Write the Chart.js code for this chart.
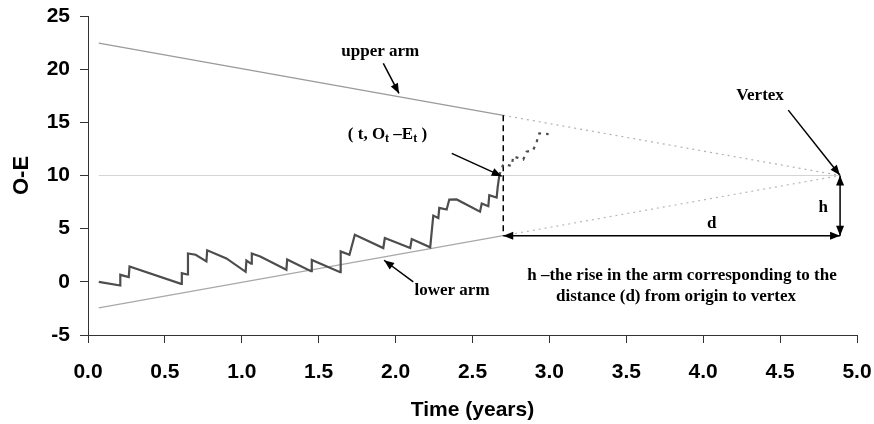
<!DOCTYPE html>
<html>
<head>
<meta charset="utf-8">
<script src="https://cdn.jsdelivr.net/npm/chart.js@4.4.1/dist/chart.umd.min.js"></script>
<style>
  body { margin: 0; background: #fff; }
  #wrap { width: 874px; height: 424px; position: relative; }
</style>
</head>
<body>
<div id="wrap"><canvas id="cusum"></canvas></div>
<script>
// observed cumulative O-E up to the time of analysis
const sawT  = [0.07, 0.21, 0.21, 0.265, 0.27, 0.605, 0.61, 0.645, 0.65, 0.70, 0.77, 0.775, 0.90, 1.025, 1.03, 1.06, 1.065, 1.12, 1.29, 1.295, 1.45, 1.455, 1.64, 1.643, 1.70, 1.735, 1.92, 1.93, 2.095, 2.105, 2.225, 2.245, 2.278, 2.284, 2.332, 2.349, 2.397, 2.549, 2.56, 2.603, 2.609, 2.657, 2.664, 2.675];
const sawOE = [0.0, -0.35, 0.66, 0.44, 1.45, -0.19, 0.82, 0.69, 2.67, 2.55, 1.92, 2.96, 2.2, 0.94, 2.0, 1.7, 2.67, 2.39, 1.13, 2.1, 1.0, 2.05, 0.91, 2.86, 2.55, 4.43, 3.18, 4.12, 3.18, 4.03, 3.25, 6.23, 6.0, 6.95, 6.8, 7.74, 7.75, 6.6, 7.37, 7.11, 8.15, 7.93, 8.94, 10.05];

// continuation after the analysis time (dotted)
const nextT  = [2.675, 2.70, 2.755, 2.765, 2.83, 2.852, 2.895, 2.917, 2.934, 2.995];
const nextOE = [10.05, 11.05, 10.9, 11.8, 11.5, 12.23, 12.39, 13.17, 13.96, 13.9];

// V-mask arms
const upperT = [0.07, 2.7],  upperOE = [22.45, 15.66];
const upperProjT = [2.7, 4.89], upperProjOE = [15.66, 10];
const lowerT = [0.07, 2.7],  lowerOE = [-2.45, 4.34];
const lowerProjT = [2.7, 4.89], lowerProjOE = [4.34, 10];
const axisT = [0.07, 4.89], axisOE = [10, 10];

// construction lines
const nowT = [2.7, 2.7],  nowOE = [15.66, 4.34];
const dT = [2.7, 4.89],   dOE = [4.34, 4.34];
const hT = [4.89, 4.89],  hOE = [10, 4.34];

const xTickLabels = ['0.0', '0.5', '1.0', '1.5', '2.0', '2.5', '3.0', '3.5', '4.0', '4.5', '5.0'];

const pts = (xs, ys) => xs.map((x, i) => ({ x: x, y: ys[i] }));

// text notes, in data units
const notes = [
    { text: 'upper arm', t: 1.90, v: 21.64 },
    { text: 'lower arm', t: 2.367, v: -0.79 },
    { text: 'Vertex', t: 4.37, v: 17.56 },
    { text: 'd', t: 4.055, v: 5.49 },
    { text: 'h', t: 4.78, v: 7.02 },
    { text: 'h \u2013the rise in the arm corresponding to the', t: 3.862, v: 0.56 },
    { text: 'distance (d) from origin to vertex', t: 3.823, v: -1.42 }
];
const pointers = [
    { from: [1.92, 20.55], to: [2.022, 17.72] },
    { from: [2.115, -0.01], to: [1.925, 2.03] },
    { from: [2.365, 12.08], to: [2.69, 9.94] },
    { from: [4.553, 16.15], to: [4.889, 10.03] }
];

function arrowHead(ctx, x1, y1, x2, y2) {
    const a = Math.atan2(y2 - y1, x2 - x1);
    const len = 10, w = 4;
    ctx.beginPath();
    ctx.moveTo(x2, y2);
    ctx.lineTo(x2 - len * Math.cos(a) + w * Math.sin(a), y2 - len * Math.sin(a) - w * Math.cos(a));
    ctx.lineTo(x2 - len * Math.cos(a) - w * Math.sin(a), y2 - len * Math.sin(a) + w * Math.cos(a));
    ctx.closePath();
    ctx.fill();
}

const notesPlugin = {
    id: 'notes',
    afterDatasetsDraw(chart) {
        const ctx = chart.ctx;
        const xs = chart.scales.x, ys = chart.scales.y;
        const px = t => xs.getPixelForValue(t);
        const py = v => ys.getPixelForValue(v);
        ctx.save();
        ctx.fillStyle = '#000';
        ctx.strokeStyle = '#000';
        ctx.lineWidth = 1.5;

        // pointer arrows
        pointers.forEach(p => {
            const x1 = px(p.from[0]), y1 = py(p.from[1]);
            const x2 = px(p.to[0]), y2 = py(p.to[1]);
            ctx.beginPath();
            ctx.moveTo(x1, y1);
            ctx.lineTo(x2, y2);
            ctx.stroke();
            arrowHead(ctx, x1, y1, x2, y2);
        });

        // heads on the d and h dimension lines
        [4, 5].forEach(i => {
            const d = chart.getDatasetMeta(i).data;
            const a = d[0], b = d[d.length - 1];
            arrowHead(ctx, b.x, b.y, a.x, a.y);
            arrowHead(ctx, a.x, a.y, b.x, b.y);
        });

        // labels
        ctx.font = 'bold 17px "Liberation Serif", "Times New Roman", serif';
        ctx.textAlign = 'center';
        ctx.textBaseline = 'middle';
        notes.forEach(n => ctx.fillText(n.text, px(n.t), py(n.v)));

        // ( t, Ot - Et ) with subscripts
        const parts = [
            ['( t, O', 17, 0], ['t', 12, 4], [' \u2013E', 17, 0], ['t', 12, 4], [' )', 17, 0]
        ];
        ctx.textAlign = 'left';
        let total = 0;
        parts.forEach(p => {
            ctx.font = 'bold ' + p[1] + 'px "Liberation Serif", serif';
            total += ctx.measureText(p[0]).width;
        });
        let cx = px(1.947) - total / 2;
        const cy = py(13.8);
        parts.forEach(p => {
            ctx.font = 'bold ' + p[1] + 'px "Liberation Serif", serif';
            ctx.fillText(p[0], cx, cy + p[2]);
            cx += ctx.measureText(p[0]).width;
        });
        ctx.restore();
    }
};

const line = (data, color, width, dash) => ({
    data: data,
    borderColor: color,
    borderWidth: width,
    borderDash: dash || [],
    pointRadius: 0,
    tension: 0,
    fill: false
});

new Chart(document.getElementById('cusum'), {
    type: 'line',
    data: {
        datasets: [
            line(pts(sawT, sawOE), '#4d4d4d', 2.2),
            line(pts(nextT, nextOE), '#4d4d4d', 2.2, [3, 5]),
            line(pts(nowT, nowOE), '#000', 1.5, [6, 4]),
            line(pts(upperT, upperOE), '#9a9a9a', 1.2),
            line(pts(dT, dOE), '#000', 1.5),
            line(pts(hT, hOE), '#000', 1.5),
            line(pts(lowerT, lowerOE), '#a8a8a8', 1.2),
            line(pts(upperProjT, upperProjOE), '#b0b0b0', 1.2, [2, 4]),
            line(pts(lowerProjT, lowerProjOE), '#b8b8b8', 1.2, [2, 4]),
            line(pts(axisT, axisOE), '#d4d4d4', 1.2)
        ]
    },
    options: {
        responsive: true,
        maintainAspectRatio: false,
        animation: false,
        layout: { padding: { top: 16, right: 17, left: 0, bottom: 0 } },
        plugins: {
            legend: { display: false },
            tooltip: { enabled: false }
        },
        scales: {
            x: {
                type: 'linear',
                min: 0,
                max: 5,
                afterFit: s => { s.height = 89; s.paddingLeft = 0; s.paddingRight = 0; },
                afterBuildTicks: s => { s.ticks = xTickLabels.map(l => ({ value: parseFloat(l) })); },
                ticks: {
                    callback: (v, i) => xTickLabels[i],
                    color: '#000',
                    padding: 17,
                    maxRotation: 0,
                    font: { family: '"Liberation Sans", Arial, sans-serif', size: 21, weight: 'bold' }
                },
                grid: { drawOnChartArea: false, drawTicks: true, tickLength: 8, color: '#333' },
                border: { display: true, color: '#333', width: 1 },
                title: {
                    display: true,
                    text: 'Time (years)',
                    color: '#000',
                    padding: { top: 0, bottom: 1 },
                    font: { family: '"Liberation Sans", Arial, sans-serif', size: 21, weight: 'bold' }
                }
            },
            y: {
                min: -5,
                max: 25,
                afterFit: s => { s.width = 88; s.paddingTop = 0; s.paddingBottom = 0; },
                ticks: {
                    stepSize: 5,
                    color: '#000',
                    padding: 10,
                    font: { family: '"Liberation Sans", Arial, sans-serif', size: 21, weight: 'bold' }
                },
                grid: { drawOnChartArea: false, drawTicks: true, tickLength: 8, color: '#333' },
                border: { display: true, color: '#333', width: 1 },
                title: {
                    display: true,
                    text: 'O-E',
                    color: '#000',
                    padding: { top: 9, bottom: 0 },
                    font: { family: '"Liberation Sans", Arial, sans-serif', size: 22, weight: 'bold' }
                }
            }
        }
    },
    plugins: [notesPlugin]
});
</script>
</body>
</html>
